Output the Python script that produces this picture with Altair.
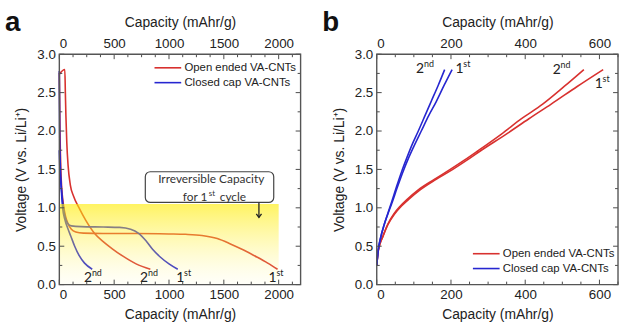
import altair as alt
import pandas as pd

RED = "#d8312f"
BLUE = "#2626d0"
SERIES = ["Open ended VA-CNTs", "Closed cap VA-CNTs"]
FONT = "Liberation Sans"
LFONT = "Lato"
TXT = "#222222"
TICK = "#4a4a4a"

# ---------------- Panel a: discharge curves ----------------
a_open_1st_cap = [0, 3, 6, 10, 15, 22, 32, 45, 60, 80, 110, 150, 220, 400, 700, 1000, 1150, 1300, 1440, 1560, 1680, 1800, 1900, 1990]
a_open_1st_v = [2.76, 2.4, 2.0, 1.7, 1.45, 1.25, 1.1, 0.97, 0.87, 0.79, 0.72, 0.685, 0.67, 0.665, 0.665, 0.66, 0.655, 0.64, 0.6, 0.53, 0.45, 0.36, 0.28, 0.2]
a_open_2nd_cap = [0, 50, 55, 60, 68, 80, 100, 130, 180, 240, 320, 400, 480, 580, 700, 830]
a_open_2nd_v = [2.74, 2.8, 2.5, 2.2, 1.85, 1.55, 1.3, 1.15, 1.0, 0.84, 0.67, 0.56, 0.47, 0.37, 0.27, 0.2]
a_closed_1st_cap = [0, 2, 4, 8, 15, 25, 40, 55, 75, 110, 200, 400, 550, 650, 720, 790, 850, 920, 1000, 1080]
a_closed_1st_v = [2.78, 2.3, 1.9, 1.6, 1.35, 1.15, 0.98, 0.87, 0.8, 0.765, 0.755, 0.75, 0.745, 0.72, 0.67, 0.57, 0.46, 0.36, 0.27, 0.2]
a_closed_2nd_cap = [0, 5, 15, 30, 50, 75, 105, 140, 180, 230, 300]
a_closed_2nd_v = [1.75, 1.5, 1.3, 1.0, 0.85, 0.74, 0.63, 0.5, 0.38, 0.28, 0.2]

a_lab_cap = [225, 736, 1065, 1907]
a_lab_v = [0.04, 0.04, 0.04, 0.04]
a_lab_base = ["2", "2", "1", "1"]
a_lab_sup = ["nd", "nd", "st", "st"]

# irreversible capacity band and annotation
band_cap = [0, 2000]
band_v = [0, 1.05]
box_cap = [784, 1955]
box_v = [1.07, 1.47]
box_line1 = "Irreversible Capacity"
box_line2 = ["for 1", "st", "cycle"]
box_text_cap = [1385, 1350]
box_text_v = [1.37, 1.14]
arrow_cap = 1820
arrow_v = [1.07, 0.875]

# ---------------- Panel b: charge curves ----------------
b_open_1st_cap = [0, 3, 8, 16, 30, 48, 66, 86, 116, 160, 205, 243, 279, 349, 410, 470, 540, 610]
b_open_1st_v = [0.25, 0.4, 0.52, 0.62, 0.78, 0.92, 1.02, 1.11, 1.23, 1.37, 1.5, 1.62, 1.74, 1.96, 2.16, 2.35, 2.58, 2.8]
b_open_2nd_cap = [0, 3, 8, 16, 29, 46, 63, 82, 111, 155, 198, 236, 272, 336, 390, 447, 505, 558]
b_open_2nd_v = [0.25, 0.4, 0.52, 0.62, 0.78, 0.92, 1.02, 1.11, 1.23, 1.37, 1.5, 1.62, 1.74, 1.96, 2.16, 2.35, 2.58, 2.8]
b_closed_1st_cap = [0, 4, 10, 20, 30, 40, 55, 70, 85, 100, 120, 140, 160, 182, 203]
b_closed_1st_v = [0.25, 0.45, 0.6, 0.78, 0.92, 1.05, 1.26, 1.46, 1.64, 1.8, 2.0, 2.2, 2.38, 2.6, 2.8]
b_closed_2nd_cap = [0, 4, 10, 20, 30, 39, 53, 67, 81, 95, 112, 130, 148, 166, 183]
b_closed_2nd_v = [0.25, 0.45, 0.6, 0.78, 0.93, 1.06, 1.27, 1.47, 1.65, 1.82, 2.0, 2.2, 2.4, 2.6, 2.8]

b_lab_cap = [106, 212, 474, 587]
b_lab_v = [2.76, 2.76, 2.74, 2.56]
b_lab_base = ["2", "1", "2", "1"]
b_lab_sup = ["nd", "st", "nd", "st"]

# axes / ticks
y_major = [0.0, 0.5, 1.0, 1.5, 2.0, 2.5, 3.0]
y_minor = [0.25, 0.75, 1.25, 1.75, 2.25, 2.75]
a_x_major = [0, 500, 1000, 1500, 2000]
a_x_minor = [125, 250, 375, 625, 750, 875, 1125, 1250, 1375, 1625, 1750, 1875, 2125]
b_x_major = [0, 200, 400, 600]
b_x_minor = [50, 100, 150, 250, 300, 350, 450, 500, 550, 650]

W, H = 244, 233


def curves_df(curves):
    rows = []
    for series, cycle, caps, vs in curves:
        for i, (c, v) in enumerate(zip(caps, vs)):
            rows.append({"series": series, "cycle": cycle, "cap": c, "v": v, "idx": i})
    return pd.DataFrame(rows)


color_scale = alt.Scale(domain=SERIES, range=[RED, BLUE])


def legend(lx, ly):
    return alt.Legend(orient="none", legendX=lx, legendY=ly, title=None,
                      symbolType="M-3,0L3,0", symbolSize=81, symbolStrokeWidth=1.6,
                      labelFont=FONT, labelFontSize=11.5, labelColor=TXT,
                      labelOffset=11, rowPadding=2, padding=0)


def frame_layers(xs, ys, xmaj, xmin, top_axis):
    layers = []
    for vals, ln, ax in [(xmaj, 5, top_axis), (xmin, 3, None)]:
        d = pd.DataFrame({"v": vals})
        layers.append(alt.Chart(d).mark_rule(color=TICK, strokeWidth=1).encode(
            x=alt.X("v:Q", scale=xs, axis=ax), y=alt.value(0), y2=alt.value(ln)))
        layers.append(alt.Chart(d).mark_rule(color=TICK, strokeWidth=1).encode(
            x=alt.X("v:Q", scale=xs, axis=None), y=alt.value(H), y2=alt.value(H - ln)))
    for vals, ln in [(y_major, 5), (y_minor, 3)]:
        d = pd.DataFrame({"v": vals})
        layers.append(alt.Chart(d).mark_rule(color=TICK, strokeWidth=1).encode(
            y=alt.Y("v:Q", scale=ys, axis=None), x=alt.value(0), x2=alt.value(ln)))
        layers.append(alt.Chart(d).mark_rule(color=TICK, strokeWidth=1).encode(
            y=alt.Y("v:Q", scale=ys, axis=None), x=alt.value(W), x2=alt.value(W - ln)))
    frame = alt.Chart(pd.DataFrame({"k": [0]})).mark_rect(
        fill="transparent", stroke="#555", strokeWidth=1.4).encode(
        x=alt.value(0), x2=alt.value(W), y=alt.value(0), y2=alt.value(H))
    layers.append(frame)
    return layers


def axis_bottom(vals):
    return alt.Axis(orient="bottom", values=vals, title="Capacity (mAhr/g)", ticks=False, tickSize=0,
                    domain=False, grid=False, labelPadding=3, titlePadding=7, format="d")


def axis_top(vals):
    return alt.Axis(orient="top", values=vals, title="Capacity (mAhr/g)", ticks=False, tickSize=0,
                    domain=False, grid=False, labelPadding=4, titlePadding=7, format="d")


y_axis = alt.Axis(orient="left", values=y_major, title="Voltage (V vs. Li/Li⁺)", ticks=False, tickSize=0,
                  domain=False, grid=False, format=".1f", labelPadding=4, titlePadding=8)


def cycle_labels(caps, vs, bases, sups, xs, ys):
    d = pd.DataFrame({"cap": caps, "v": vs, "base": bases, "sup": sups})
    base = alt.Chart(d).mark_text(align="left", baseline="alphabetic", font=LFONT, fontSize=14, color=TXT).encode(
        x=alt.X("cap:Q", scale=xs, axis=None), y=alt.Y("v:Q", scale=ys, axis=None), text="base:N")
    sup = alt.Chart(d).mark_text(align="left", baseline="alphabetic", font=LFONT, fontSize=9, color=TXT,
                                 dx=8, dy=-6).encode(
        x=alt.X("cap:Q", scale=xs, axis=None), y=alt.Y("v:Q", scale=ys, axis=None), text="sup:N")
    return [base, sup]


def panel_letter(letter):
    return alt.Chart(pd.DataFrame({"t": [letter]})).mark_text(
        align="left", baseline="alphabetic", font=FONT, fontSize=28, fontWeight="bold", color="#111").encode(
        x=alt.value(-55), y=alt.value(-23), text="t:N")


ys = alt.Scale(domain=[0, 3], nice=False, zero=False)

# ---- panel a
xs_a = alt.Scale(domain=[0, 2200], nice=False, zero=False)
df_a = curves_df([
    (SERIES[0], "1st", a_open_1st_cap, a_open_1st_v),
    (SERIES[0], "2nd", a_open_2nd_cap, a_open_2nd_v),
    (SERIES[1], "1st", a_closed_1st_cap, a_closed_1st_v),
    (SERIES[1], "2nd", a_closed_2nd_cap, a_closed_2nd_v),
])
lines_a = alt.Chart(df_a).mark_line(strokeWidth=1.6, interpolate="monotone").encode(
    x=alt.X("cap:Q", scale=xs_a, axis=axis_bottom(a_x_major)),
    y=alt.Y("v:Q", scale=ys, axis=y_axis),
    color=alt.Color("series:N", scale=color_scale, legend=legend(104, 8)),
    detail="cycle:N", order="idx:Q")

band = alt.Chart(pd.DataFrame({"x": [band_cap[0]], "x2": [band_cap[1]], "y": [band_v[0]], "y2": [band_v[1]]})).mark_rect(
    color=alt.Gradient(gradient="linear",
                       stops=[alt.GradientStop(color="rgba(255,236,0,0.62)", offset=0),
                              alt.GradientStop(color="rgba(255,240,60,0.32)", offset=0.5),
                              alt.GradientStop(color="rgba(255,248,150,0.06)", offset=1)],
                       x1=0, x2=0, y1=0, y2=1)).encode(
    x=alt.X("x:Q", scale=xs_a, axis=None), x2="x2:Q",
    y=alt.Y("y:Q", scale=ys, axis=None), y2="y2:Q")

box = alt.Chart(pd.DataFrame({"x": [box_cap[0]], "x2": [box_cap[1]], "y": [box_v[0]], "y2": [box_v[1]]})).mark_rect(
    fill="white", stroke="#444", strokeWidth=1.2, cornerRadius=5).encode(
    x=alt.X("x:Q", scale=xs_a, axis=None), x2="x2:Q",
    y=alt.Y("y:Q", scale=ys, axis=None), y2="y2:Q")

t1 = alt.Chart(pd.DataFrame({"cap": [box_text_cap[0]], "v": [box_text_v[0]], "t": [box_line1]})).mark_text(
    font=LFONT, fontSize=12, color="#333", baseline="middle").encode(
    x=alt.X("cap:Q", scale=xs_a, axis=None), y=alt.Y("v:Q", scale=ys, axis=None), text="t:N")
t2df = pd.DataFrame({"cap": [box_text_cap[1]] * 3, "v": [box_text_v[1]] * 3, "t": box_line2})
t2a = alt.Chart(t2df.iloc[[0]]).mark_text(font=LFONT, fontSize=12, color="#333", baseline="middle", align="right").encode(
    x=alt.X("cap:Q", scale=xs_a, axis=None), y=alt.Y("v:Q", scale=ys, axis=None), text="t:N")
t2b = alt.Chart(t2df.iloc[[1]]).mark_text(font=LFONT, fontSize=8, color="#333", baseline="middle", align="left", dx=1.5, dy=-3.5).encode(
    x=alt.X("cap:Q", scale=xs_a, axis=None), y=alt.Y("v:Q", scale=ys, axis=None), text="t:N")
t2c = alt.Chart(t2df.iloc[[2]]).mark_text(font=LFONT, fontSize=12, color="#333", baseline="middle", align="left", dx=12.5).encode(
    x=alt.X("cap:Q", scale=xs_a, axis=None), y=alt.Y("v:Q", scale=ys, axis=None), text="t:N")

arrow_line = alt.Chart(pd.DataFrame({"cap": [arrow_cap], "v": [arrow_v[0]], "v2": [arrow_v[1]]})).mark_rule(
    color="#222", strokeWidth=1.3).encode(
    x=alt.X("cap:Q", scale=xs_a, axis=None), y=alt.Y("v:Q", scale=ys, axis=None), y2="v2:Q")
arrow_head = alt.Chart(pd.DataFrame({"cap": [arrow_cap], "v": [arrow_v[1]]})).mark_point(
    shape="M-1,-1.4L0,0L1,-1.4", size=28, filled=False, stroke="#222", strokeWidth=1.3, opacity=1).encode(
    x=alt.X("cap:Q", scale=xs_a, axis=None), y=alt.Y("v:Q", scale=ys, axis=None))

panel_a = alt.layer(
    lines_a, band, *cycle_labels(a_lab_cap, a_lab_v, a_lab_base, a_lab_sup, xs_a, ys),
    box, t1, t2a, t2b, t2c, arrow_line, arrow_head,
    *frame_layers(xs_a, ys, a_x_major, a_x_minor, axis_top(a_x_major)),
    panel_letter("a"),
).resolve_axis(x="independent", y="independent").properties(width=W, height=H)

# ---- panel b
xs_b = alt.Scale(domain=[0, 650], nice=False, zero=False)
df_b = curves_df([
    (SERIES[0], "1st", b_open_1st_cap, b_open_1st_v),
    (SERIES[0], "2nd", b_open_2nd_cap, b_open_2nd_v),
    (SERIES[1], "1st", b_closed_1st_cap, b_closed_1st_v),
    (SERIES[1], "2nd", b_closed_2nd_cap, b_closed_2nd_v),
])
lines_b = alt.Chart(df_b).mark_line(strokeWidth=1.6, interpolate="monotone").encode(
    x=alt.X("cap:Q", scale=xs_b, axis=axis_bottom(b_x_major)),
    y=alt.Y("v:Q", scale=ys, axis=y_axis),
    color=alt.Color("series:N", scale=color_scale, legend=legend(105, 196)),
    detail="cycle:N", order="idx:Q")

panel_b = alt.layer(
    lines_b, *cycle_labels(b_lab_cap, b_lab_v, b_lab_base, b_lab_sup, xs_b, ys),
    *frame_layers(xs_b, ys, b_x_major, b_x_minor, axis_top(b_x_major)),
    panel_letter("b"),
).resolve_axis(x="independent", y="independent").properties(width=W, height=H)

chart = alt.hconcat(panel_a, panel_b, spacing=21).resolve_scale(color="independent").resolve_legend(
    color="independent").properties(
    padding={"left": 5, "top": 8, "right": 0, "bottom": 0}, background="white"
).configure_view(strokeWidth=0).configure_axis(
    labelFont=FONT, labelFontSize=13.5, labelColor=TXT, titleFont=FONT, titleFontSize=14,
    titleFontWeight="normal", titleColor=TXT)

chart.save("out.html", embed_options={"renderer": "svg", "actions": False})
